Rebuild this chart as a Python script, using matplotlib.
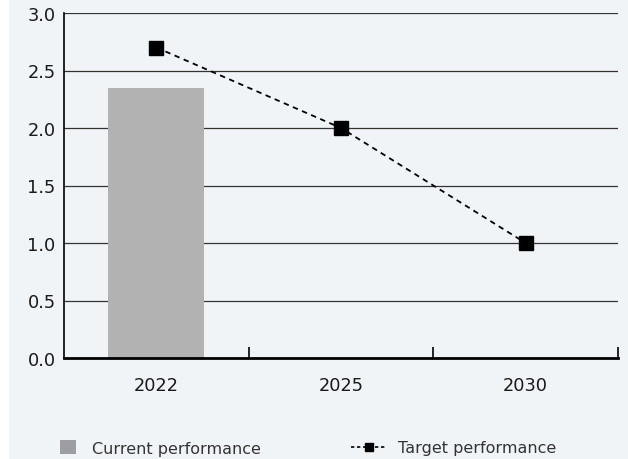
import matplotlib
matplotlib.use("Agg")
import matplotlib.pyplot as plt
from matplotlib.patches import Rectangle, Patch
from matplotlib.lines import Line2D

years = ["2022", "2025", "2030"]
current = [2.35, None, None]
target = [2.7, 2.0, 1.0]
yticks = [0.0, 0.5, 1.0, 1.5, 2.0, 2.5, 3.0]

plt.rcParams['font.family'] = ['DejaVu Sans']
bg = "#f1f4f7"

fig = plt.figure(figsize=(6.28, 4.6), dpi=100, facecolor=bg)
fig.patches.append(Rectangle((0, 0), 9/628, 1, transform=fig.transFigure,
                             facecolor="white", edgecolor="none", zorder=-10))
ax = fig.add_axes([64/628, 1-359/460, 554/628, 345/460])
ax.set_facecolor(bg)

x = list(range(len(years)))
bar_x = [i for i, v in zip(x, current) if v is not None]
bar_v = [v for v in current if v is not None]
ax.bar(bar_x, bar_v, width=0.52, color="#b2b2b2", zorder=2)
ax.plot(x, target, color="black", lw=1.3, linestyle=(0, (3, 2.5)),
        marker="s", markersize=10, markerfacecolor="black",
        markeredgecolor="black", zorder=4)

ax.set_xlim(-0.5, 2.5)
ax.set_ylim(0, 3.0)
ax.set_yticks(yticks)
ax.set_yticklabels([f"{v:.1f}" for v in yticks])
ax.set_xticks(x)
ax.set_xticklabels(years)
ax.set_xticks([0.5, 1.5, 2.5], minor=True)
ax.tick_params(axis='x', which='major', length=0, pad=13, labelsize=12.8, colors="#1a1a1a")
ax.tick_params(axis='x', which='minor', direction='in', length=8, width=1.2, color="black")
ax.tick_params(axis='y', length=0, pad=6, labelsize=12.8, colors="#1a1a1a")

for yv in yticks[1:]:
    ax.axhline(yv, color="#333333", lw=0.9, zorder=1)

for s in ["top", "right"]:
    ax.spines[s].set_visible(False)
ax.spines["left"].set_color("black")
ax.spines["left"].set_linewidth(1.2)
ax.spines["bottom"].set_color("black")
ax.spines["bottom"].set_linewidth(2.0)

yc = 1 - 449/460
fig.legend([Patch(facecolor="#9d9ea3", edgecolor="none")], ["Current performance"],
           loc="center left", bbox_to_anchor=(60/628, yc),
           frameon=False, fontsize=11.5, borderaxespad=0, borderpad=0,
           handlelength=1.0, handleheight=1.0, handletextpad=1.0,
           labelcolor="#333333")
fig.legend([Line2D([0], [0], color="black", lw=1.2, linestyle=(0, (2, 1.6)),
                   marker="s", markersize=5.5)], ["Target performance"],
           loc="center left", bbox_to_anchor=(351/628, yc),
           frameon=False, fontsize=11.5, borderaxespad=0, borderpad=0,
           handlelength=2.2, handletextpad=0.75,
           labelcolor="#333333")

fig.savefig("out.png", dpi=100, facecolor=bg)
